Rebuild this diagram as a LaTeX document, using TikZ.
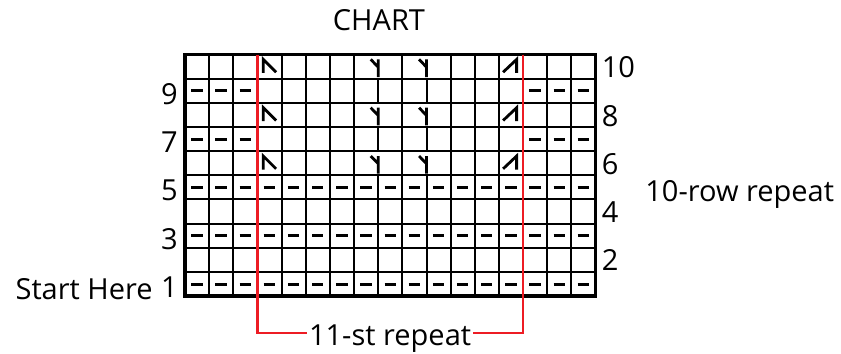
\documentclass[tikz,border=0pt]{standalone}
\usepackage{fontspec}
\setmainfont{Open Sans}
\usepackage{tikz}
\definecolor{repred}{RGB}{237,28,36}

\begin{document}
\begin{tikzpicture}[x=24.15pt,y=24.15pt,
  lbl/.style={font=\fontsize{29}{31}\selectfont,inner sep=0pt},
  gridln/.style={line width=2pt},
  border/.style={line width=3.4pt},
  purl/.style={line width=3pt},
  cbl/.style={line width=2.8pt,line join=miter},
  rep/.style={draw=repred,line width=2.2pt}]
  \useasboundingbox (-7.66,-2.36) rectangle (27.16,12.26);
  % rows and columns (columns 8 and 10 stop where two stitches cross)
  \foreach \r in {1,...,9} \draw[gridln] (0,\r) -- (17,\r);
  \foreach \k in {1,2,4,5,6,7,9,11,12,13,15,16} \draw[gridln] (\k,0) -- (\k,10);
  \foreach \k in {8,10} \draw[gridln] (\k,0) -- (\k,5) (\k,6) -- (\k,7) (\k,8) -- (\k,9);
  \draw[border] (0,0) rectangle (17,10);
  % purl dashes
  \foreach \r in {1,3,5} \foreach \c in {1,...,17}
    \draw[purl] (\c-0.74,\r-0.5) -- (\c-0.27,\r-0.5);
  \foreach \r in {7,9} \foreach \c in {1,2,3,15,16,17}
    \draw[purl] (\c-0.74,\r-0.5) -- (\c-0.27,\r-0.5);
  % decreases and crosses on the even rows
  \foreach \r in {6,8,10} {
    \draw[cbl] (3.24,\r-0.76) -- (3.24,\r-0.2) -- (3.77,\r-0.73);
    \draw[cbl] (13.17,\r-0.73) -- (13.73,\r-0.2) -- (13.73,\r-0.76);
    \foreach \k in {8,10}
      \draw[cbl] (\k-0.31,\r-0.2) -- (\k,\r-0.52) (\k,\r-0.2) -- (\k,\r-0.93);
  }
  % row numbers
  \foreach \r in {1,3,5,7,9}
    \node[lbl,anchor=base east] (n\r) at (-0.29,\r-1.06) {\r};
  \foreach \r in {2,4,6,8,10}
    \node[lbl,anchor=base west] (n\r) at (17.25,\r-0.96) {\r};
  \node[lbl,anchor=base] (title) at (8.03,10.99) {CHART};
  \node[lbl,anchor=base west] (rowrep) at (19.05,3.93) {10-row repeat};
  \node[lbl,anchor=base east] (start) at (-1.33,-0.14) {Start Here};
  % stitch repeat bracket
  \node[lbl,anchor=base,inner xsep=2pt] (strep) at (8.49,-2.03) {11-st repeat};
  \coordinate (lcol) at (3,10);
  \coordinate (rcol) at (14,10);
  \coordinate (rb) at (0,-1.53);
  \draw[rep] (lcol) |- (strep.west |- rb);
  \draw[rep] (rcol) |- (strep.east |- rb);
\end{tikzpicture}
\end{document}
